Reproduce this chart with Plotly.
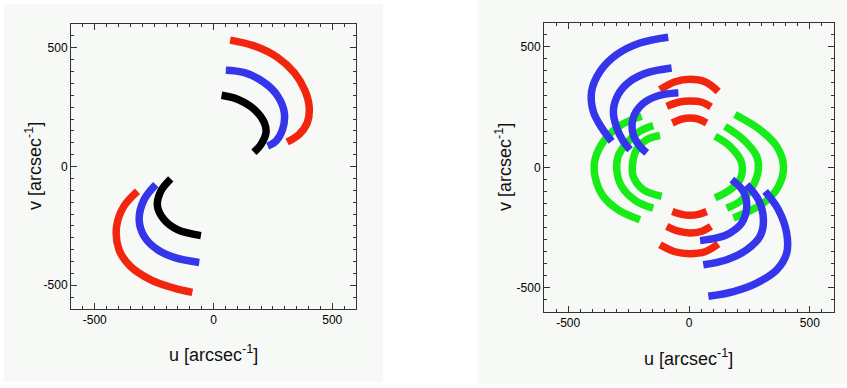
import plotly.graph_objects as go

# ---------------- data (u, v in arcsec^-1) ----------------
# Left panel
L_RED_A_U = [70, 171, 270, 340, 385, 403, 395, 360, 310]
L_RED_A_V = [532, 508, 459, 395, 320, 250, 185, 135, 103]
L_BLUE_A_U = [52, 130, 214, 270, 298, 291, 263, 228]
L_BLUE_A_V = [405, 395, 353, 297, 227, 156, 107, 86]
L_BLACK_A_U = [34, 101, 172, 214, 221, 200, 170]
L_BLACK_A_V = [300, 283, 240, 184, 142, 93, 60]
L_RED_B_U = [-320, -377, -408, -398, -349, -264, -166, -89]
L_RED_B_V = [-104, -167, -252, -350, -421, -477, -512, -530]
L_BLUE_B_U = [-243, -292, -313, -292, -236, -159, -60]
L_BLUE_B_V = [-76, -139, -224, -294, -350, -385, -404]
L_BLACK_B_U = [-180, -222, -236, -208, -152, -53]
L_BLACK_B_V = [-52, -104, -167, -224, -266, -291]

# Right panel: green tracks
R_GRN_LO_U = [-196, -279, -348, -389, -389, -355, -293, -203]
R_GRN_LO_V = [212, 177, 115, 32, -37, -120, -176, -217]
R_GRN_LM_U = [-148, -203, -258, -293, -299, -279, -217, -148]
R_GRN_LM_V = [173, 150, 101, 46, -10, -79, -141, -169]
R_GRN_LI_U = [-120, -175, -217, -233, -231, -189, -113]
R_GRN_LI_V = [132, 115, 73, 18, -37, -93, -120]
R_GRN_RO_U = [190, 294, 363, 391, 370, 308, 184]
R_GRN_RO_V = [219, 156, 87, 4, -79, -148, -210]
R_GRN_RM_U = [149, 225, 280, 287, 260, 211, 156]
R_GRN_RM_V = [170, 115, 46, -10, -85, -141, -169]
R_GRN_RI_U = [108, 170, 218, 211, 170, 108]
R_GRN_RI_V = [129, 87, 18, -51, -93, -127]

# Right panel: red tracks
R_RED_UO_U = [-120, -58, 4, 66, 121]
R_RED_UO_V = [322, 355, 365, 355, 315]
R_RED_UM_U = [-92, -44, 4, 53, 91]
R_RED_UM_V = [253, 270, 275, 270, 251]
R_RED_UI_U = [-69, -30, 4, 39, 73]
R_RED_UI_V = [184, 200, 205, 200, 184]
R_RED_LI_U = [-69, -30, 4, 39, 73]
R_RED_LI_V = [-183, -195, -199, -195, -183]
R_RED_LM_U = [-92, -44, 4, 53, 91]
R_RED_LM_V = [-245, -265, -272, -265, -245]
R_RED_LO_U = [-120, -58, 4, 66, 121]
R_RED_LO_V = [-321, -350, -358, -350, -318]

# Right panel: blue tracks
R_BLU_UO_U = [-86, -203, -299, -368, -403, -396, -361, -320]
R_BLU_UO_V = [540, 516, 468, 398, 315, 232, 164, 108]
R_BLU_UM_U = [-72, -175, -244, -293, -313, -299, -272, -244]
R_BLU_UM_V = [412, 392, 357, 302, 232, 164, 108, 73]
R_BLU_UI_U = [-44, -134, -196, -231, -231, -203, -175]
R_BLU_UI_V = [309, 295, 260, 205, 136, 87, 60]
R_BLU_LO_U = [315, 370, 404, 404, 363, 280, 184, 80]
R_BLU_LO_V = [-100, -176, -272, -356, -425, -480, -515, -535]
R_BLU_LM_U = [239, 287, 308, 294, 239, 156, 59]
R_BLU_LM_V = [-72, -134, -217, -286, -342, -383, -404]
R_BLU_LI_U = [177, 225, 239, 218, 170, 115, 46]
R_BLU_LI_V = [-51, -100, -162, -231, -272, -293, -304]

TICKVALS = [-500, 0, 500]
TICKTEXT = ["-500", "0", "500"]
X_TITLE = "u [arcsec<sup>-1</sup>]"
Y_TITLE = "v [arcsec<sup>-1</sup>]"

RED = "#f2260f"
BLUE = "#3535ec"
BLACK = "#000000"
GREEN = "#18ec18"
PANEL_BG = "#f7f9f6"

W, H = 847, 388

fig = go.Figure()


def add_track(u, v, color, axis, width=7.5):
    xa, ya = ("x", "y") if axis == 1 else ("x2", "y2")
    fig.add_trace(go.Scatter(x=u, y=v, mode="lines", xaxis=xa, yaxis=ya,
                             line=dict(color=color, width=width, shape="spline", smoothing=1.0),
                             hoverinfo="skip", showlegend=False))


left = [
    (L_RED_A_U, L_RED_A_V, RED), (L_BLUE_A_U, L_BLUE_A_V, BLUE), (L_BLACK_A_U, L_BLACK_A_V, BLACK),
    (L_RED_B_U, L_RED_B_V, RED), (L_BLUE_B_U, L_BLUE_B_V, BLUE), (L_BLACK_B_U, L_BLACK_B_V, BLACK),
]
for u, v, c in left:
    add_track(u, v, c, 1)

right = [
    (R_GRN_LO_U, R_GRN_LO_V, GREEN), (R_GRN_LM_U, R_GRN_LM_V, GREEN), (R_GRN_LI_U, R_GRN_LI_V, GREEN),
    (R_GRN_RO_U, R_GRN_RO_V, GREEN), (R_GRN_RM_U, R_GRN_RM_V, GREEN), (R_GRN_RI_U, R_GRN_RI_V, GREEN),
    (R_RED_UO_U, R_RED_UO_V, RED), (R_RED_UM_U, R_RED_UM_V, RED), (R_RED_UI_U, R_RED_UI_V, RED),
    (R_RED_LI_U, R_RED_LI_V, RED), (R_RED_LM_U, R_RED_LM_V, RED), (R_RED_LO_U, R_RED_LO_V, RED),
    (R_BLU_UO_U, R_BLU_UO_V, BLUE), (R_BLU_UM_U, R_BLU_UM_V, BLUE), (R_BLU_UI_U, R_BLU_UI_V, BLUE),
    (R_BLU_LO_U, R_BLU_LO_V, BLUE), (R_BLU_LM_U, R_BLU_LM_V, BLUE), (R_BLU_LI_U, R_BLU_LI_V, BLUE),
]
for u, v, c in right:
    add_track(u, v, c, 2)

axis_common = dict(
    range=[-600, 600], tickvals=TICKVALS, ticktext=TICKTEXT,
    ticks="inside", ticklen=6, tickwidth=1, tickcolor="#333333",
    showline=True, linecolor="#333333", linewidth=1, mirror="ticks",
    showgrid=False, zeroline=False,
    tickfont=dict(family="Liberation Sans, Arial, sans-serif", size=12, color="#000000"),
    minor=dict(dtick=50, tick0=0, ticks="inside", ticklen=3, tickcolor="#333333", showgrid=False),
)

fig.update_layout(
    width=W, height=H,
    margin=dict(l=0, r=0, t=0, b=0),
    paper_bgcolor="white", plot_bgcolor=PANEL_BG,
    xaxis=dict(domain=[71 / W, 356 / W], anchor="y", **axis_common),
    yaxis=dict(domain=[1 - 309 / H, 1 - 24 / H], anchor="x", **axis_common),
    xaxis2=dict(domain=[544 / W, 834 / W], anchor="y2", **axis_common),
    yaxis2=dict(domain=[1 - 312 / H, 1 - 22.7 / H], anchor="x2", **axis_common),
    shapes=[
        dict(type="rect", xref="paper", yref="paper", x0=4 / W, x1=383 / W, y0=1 - 382 / H, y1=1 - 4 / H,
             fillcolor=PANEL_BG, line=dict(width=0), layer="below"),
        dict(type="rect", xref="paper", yref="paper", x0=478 / W, x1=1, y0=1 - 384 / H, y1=1,
             fillcolor=PANEL_BG, line=dict(width=0), layer="below"),
    ],
)

title_font = dict(family="Liberation Sans, Arial, sans-serif", size=18, color="#111111")
ann = [
    dict(text=X_TITLE, x=213 / W, y=1 - 353 / H),
    dict(text=X_TITLE, x=688 / W, y=1 - 357 / H),
    dict(text=Y_TITLE, x=33 / W, y=1 - 166 / H, textangle=-90),
    dict(text=Y_TITLE, x=503 / W, y=1 - 167 / H, textangle=-90),
]
for a in ann:
    fig.add_annotation(xref="paper", yref="paper", showarrow=False, xanchor="center", yanchor="middle",
                       font=title_font, **a)

fig.write_html("out.html")
